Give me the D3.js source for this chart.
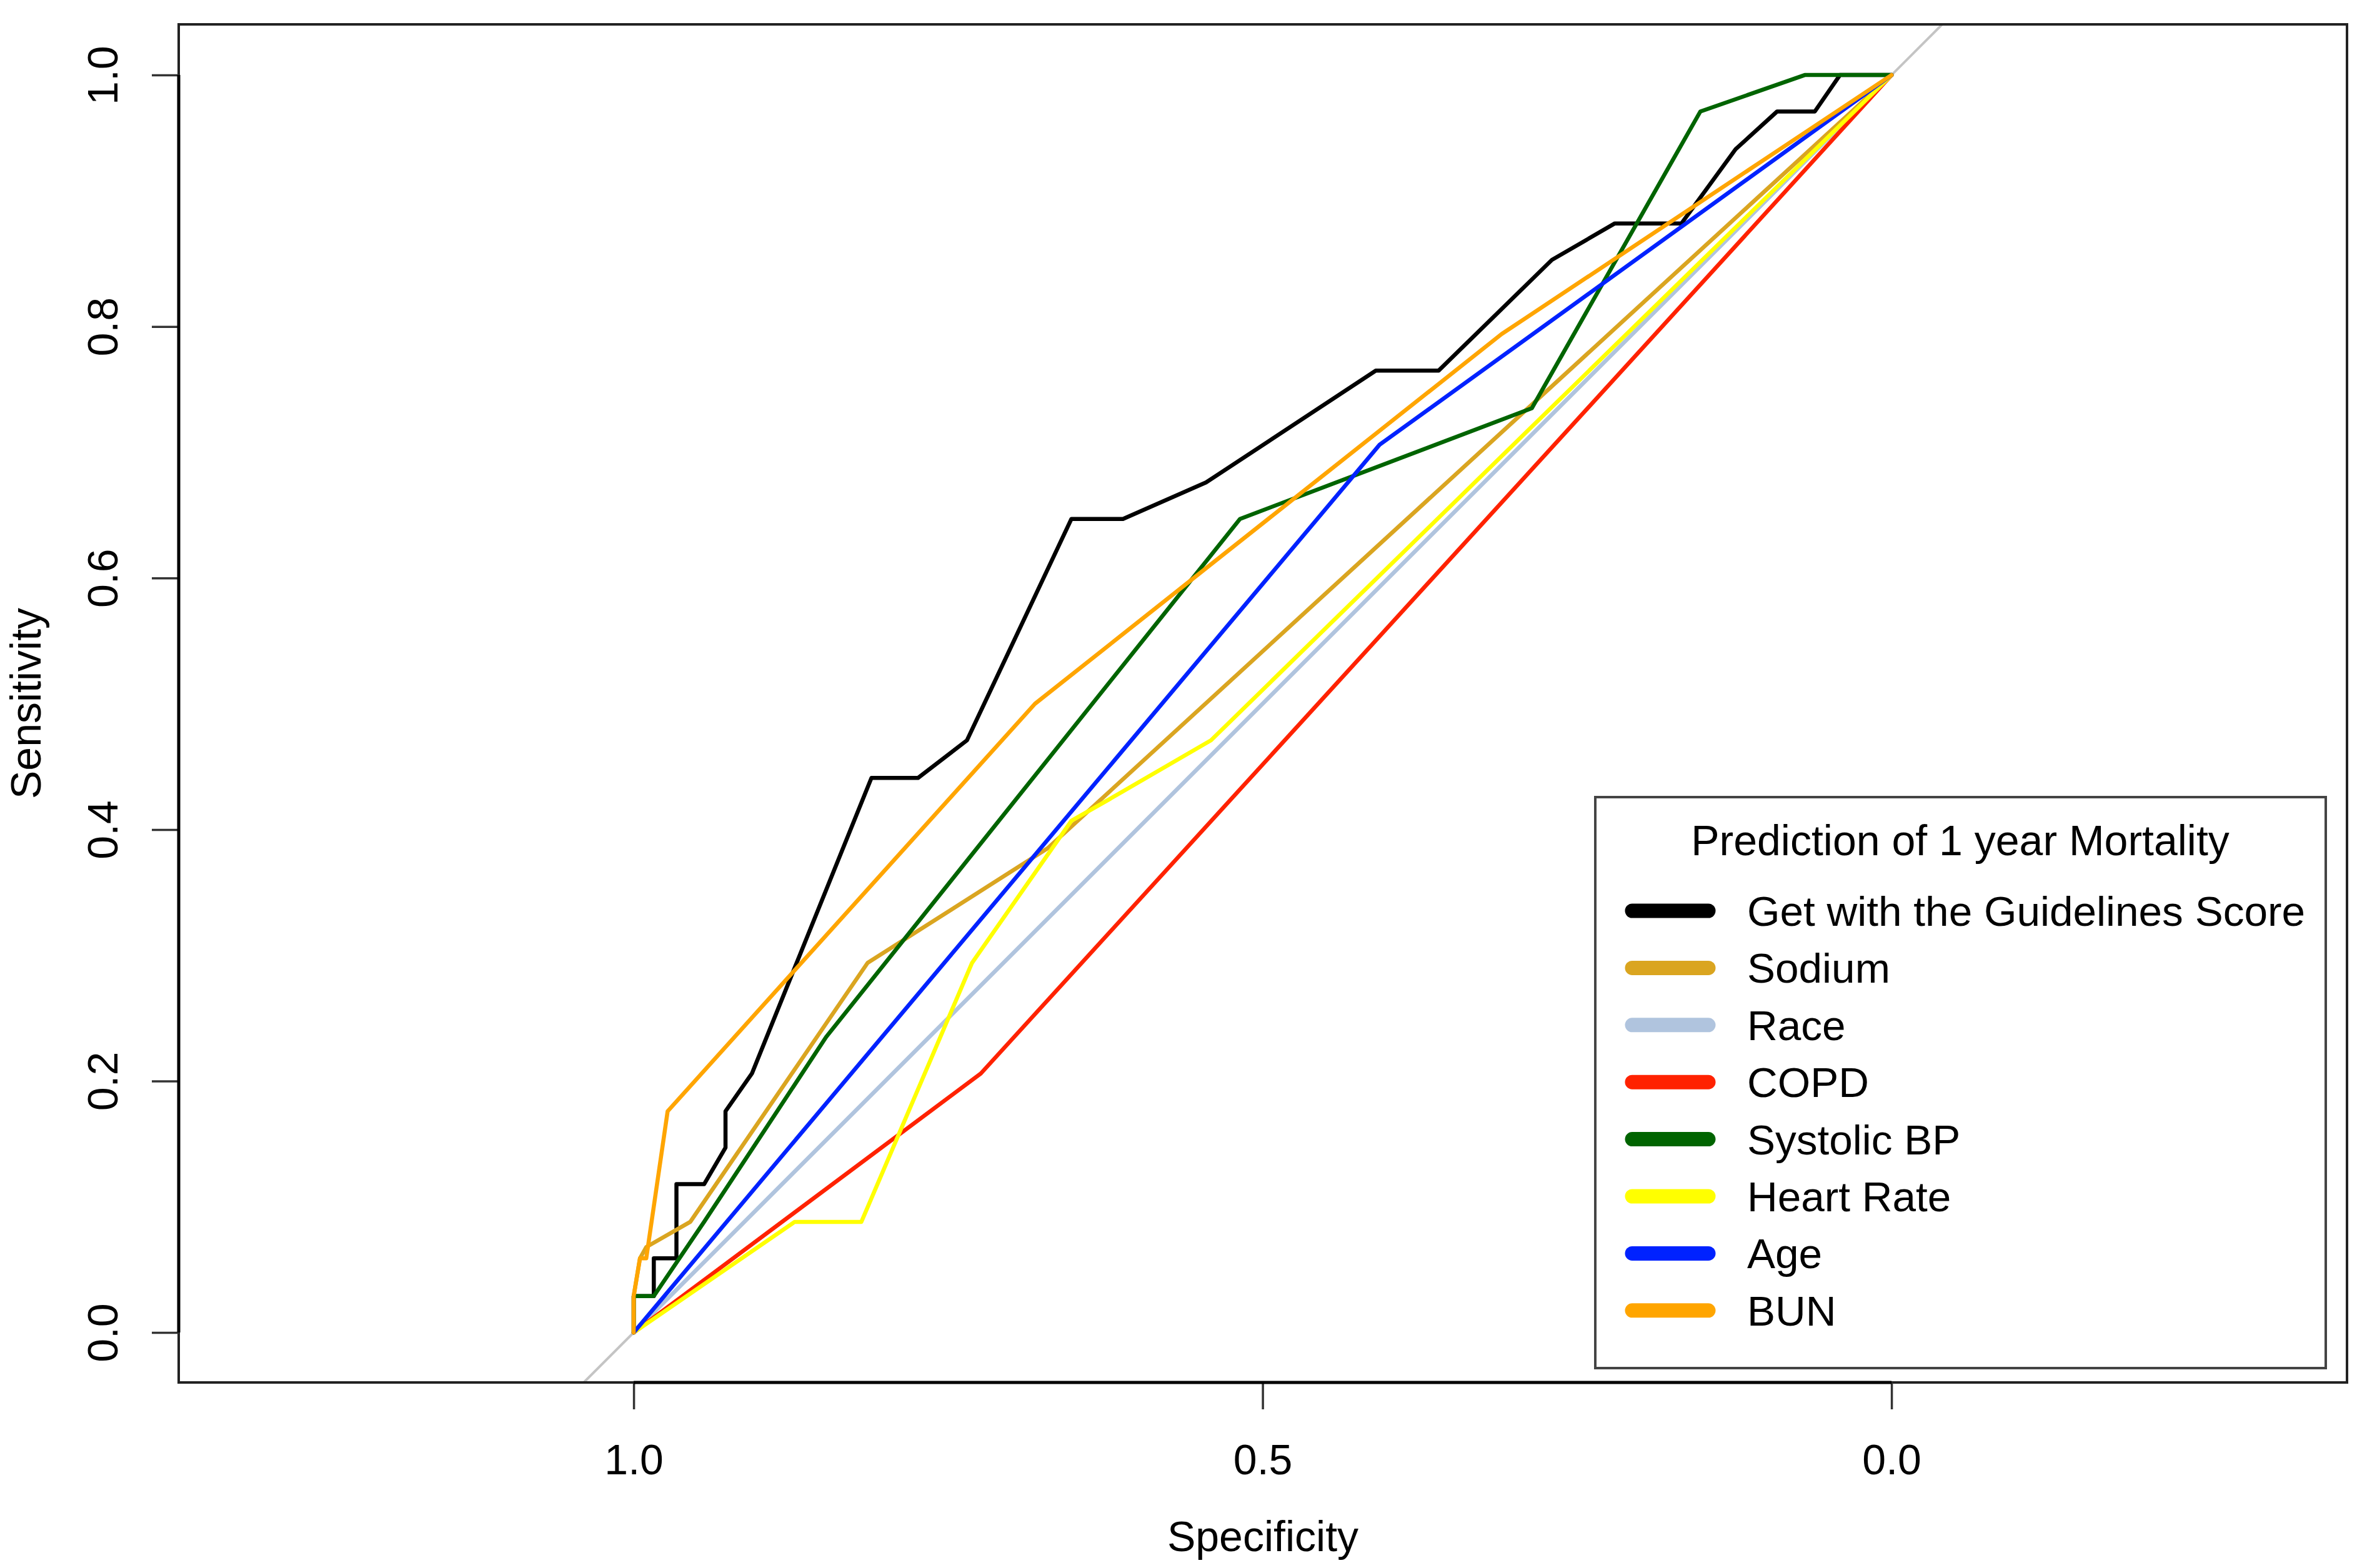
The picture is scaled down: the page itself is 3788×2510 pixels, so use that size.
<!DOCTYPE html>
<html lang="en">
<head>
<meta charset="UTF-8">
<title>ROC curves - 1 year mortality</title>
<script src="https://d3js.org/d3.v7.min.js"></script>
<style>
  body { margin: 0; background: #fff; }
  text { font-family: "Liberation Sans", Arial, sans-serif; fill: #000; }
</style>
</head>
<body>
<div id="chart"></div>
<script>
// ROC points as [specificity, sensitivity]
var gwtg = [[1,0],[1,0.029],[0.984,0.029],[0.984,0.059],[0.966,0.059],[0.966,0.118],[0.944,0.118],
  [0.927,0.147],[0.927,0.176],[0.906,0.206],[0.811,0.441],[0.774,0.441],[0.735,0.471],[0.652,0.647],
  [0.611,0.647],[0.545,0.676],[0.410,0.765],[0.360,0.765],[0.270,0.853],[0.220,0.882],[0.167,0.882],
  [0.124,0.941],[0.091,0.971],[0.061,0.971],[0.041,1],[0,1]];
var sodium = [[1,0],[1,0.029],[0.995,0.059],[0.990,0.068],[0.955,0.088],[0.814,0.294],[0.671,0.385],[0,1]];
var race = [[1,0],[0,1]];
var copd = [[1,0],[0.724,0.206],[0,1]];
var systolic = [[1,0],[1,0.029],[0.984,0.029],[0.944,0.088],[0.847,0.235],[0.518,0.647],[0.286,0.735],
  [0.152,0.971],[0.069,1],[0,1]];
var heartRate = [[1,0],[0.872,0.088],[0.819,0.088],[0.731,0.294],[0.652,0.407],[0.622,0.424],[0.541,0.471],[0,1]];
var age = [[1,0],[0.407,0.706],[0,1]];
var bun = [[1,0],[1,0.029],[0.995,0.059],[0.990,0.059],[0.973,0.176],[0.681,0.5],[0.31,0.794],[0,1]];

var seriesNames = ["Get with the Guidelines Score", "Sodium", "Race", "COPD", "Systolic BP", "Heart Rate", "Age", "BUN"];
var seriesData = [gwtg, sodium, race, copd, systolic, heartRate, age, bun];
var seriesColors = ["#000000", "#daa520", "#b0c4de", "#ff2200", "#006400", "#ffff00", "#0022ff", "#ffa500"];

var xTicks = [1, 0.5, 0];
var yTicks = [0, 0.2, 0.4, 0.6, 0.8, 1];
var legendTitle = "Prediction of 1 year Mortality";

var W = 3788, H = 2510;
var box = { left: 286, right: 3756, top: 39, bottom: 2213 };

var svg = d3.select('#chart').append('svg')
  .attr('width', W)
  .attr('height', H);

// reversed specificity axis, same unit length on both axes
var x = d3.scaleLinear().domain([1.3617, -0.3621]).range([box.left, box.right]);
var y = d3.scaleLinear().domain([-0.0397, 1.0403]).range([box.bottom, box.top]);

svg.append('clipPath').attr('id', 'plotclip')
  .append('rect')
  .attr('x', box.left).attr('y', box.top)
  .attr('width', box.right - box.left).attr('height', box.bottom - box.top);

var plot = svg.append('g').attr('clip-path', 'url(#plotclip)');

// chance diagonal
plot.append('line')
  .attr('x1', x(1.2)).attr('y1', y(-0.2))
  .attr('x2', x(-0.2)).attr('y2', y(1.2))
  .attr('stroke', '#c4c4c4')
  .attr('stroke-width', 4);

var line = d3.line()
  .x(function(d) { return x(d[0]); })
  .y(function(d) { return y(d[1]); });

plot.selectAll('path.roc').data(seriesData)
  .enter().append('path')
  .attr('class', 'roc')
  .attr('d', line)
  .attr('fill', 'none')
  .attr('stroke', function(d, i) { return seriesColors[i]; })
  .attr('stroke-width', 6.5)
  .attr('stroke-linejoin', 'round')
  .attr('stroke-linecap', 'round');

// frame
svg.append('rect')
  .attr('x', box.left).attr('y', box.top)
  .attr('width', box.right - box.left).attr('height', box.bottom - box.top)
  .attr('fill', 'none')
  .attr('stroke', '#222')
  .attr('stroke-width', 4);

// axes
var xAxis = d3.axisBottom(x).tickValues(xTicks).tickFormat(d3.format('.1f')).tickSize(43);
var gx = svg.append('g').attr('transform', 'translate(0,' + box.bottom + ')').call(xAxis);
gx.select('.domain').remove();
gx.selectAll('.tick line').attr('stroke', '#333').attr('stroke-width', 3.5);
gx.selectAll('.tick text')
  .attr('y', 147).attr('dy', null)
  .attr('font-size', 68).attr('fill', '#000');
gx.append('line')
  .attr('x1', x(1)).attr('x2', x(0))
  .attr('stroke', '#000').attr('stroke-width', 5);

var yAxis = d3.axisLeft(y).tickValues(yTicks).tickFormat(d3.format('.1f')).tickSize(43);
var gy = svg.append('g').attr('transform', 'translate(' + box.left + ',0)').call(yAxis);
gy.select('.domain').remove();
gy.selectAll('.tick line').attr('stroke', '#333').attr('stroke-width', 3.5);
gy.selectAll('.tick text')
  .attr('x', null).attr('dy', null)
  .attr('text-anchor', 'middle')
  .attr('font-size', 68).attr('fill', '#000')
  .attr('transform', 'translate(-98,0) rotate(-90)');
gy.append('line')
  .attr('y1', y(0)).attr('y2', y(1))
  .attr('stroke', '#000').attr('stroke-width', 5);

svg.append('text')
  .attr('x', (box.left + box.right) / 2)
  .attr('y', 2483)
  .attr('text-anchor', 'middle')
  .attr('font-size', 68)
  .text('Specificity');

svg.append('text')
  .attr('transform', 'translate(65,' + (box.top + box.bottom) / 2 + ') rotate(-90)')
  .attr('text-anchor', 'middle')
  .attr('font-size', 68)
  .text('Sensitivity');

// legend
var leg = svg.append('g');
leg.append('rect')
  .attr('x', 2553).attr('y', 1276)
  .attr('width', 1169).attr('height', 914)
  .attr('fill', '#fff')
  .attr('stroke', '#444')
  .attr('stroke-width', 4);
leg.append('text')
  .attr('x', 3137).attr('y', 1369)
  .attr('text-anchor', 'middle')
  .attr('font-size', 68)
  .text(legendTitle);

var rows = leg.selectAll('g.row').data(seriesNames)
  .enter().append('g')
  .attr('class', 'row')
  .attr('transform', function(d, i) { return 'translate(0,' + (1458 + i * 91.4) + ')'; });
rows.append('line')
  .attr('x1', 2612).attr('x2', 2734)
  .attr('stroke', function(d, i) { return seriesColors[i]; })
  .attr('stroke-width', 23)
  .attr('stroke-linecap', 'round');
rows.append('text')
  .attr('x', 2796).attr('y', 24)
  .attr('font-size', 67.5)
  .text(function(d) { return d; });
</script>
</body>
</html>
